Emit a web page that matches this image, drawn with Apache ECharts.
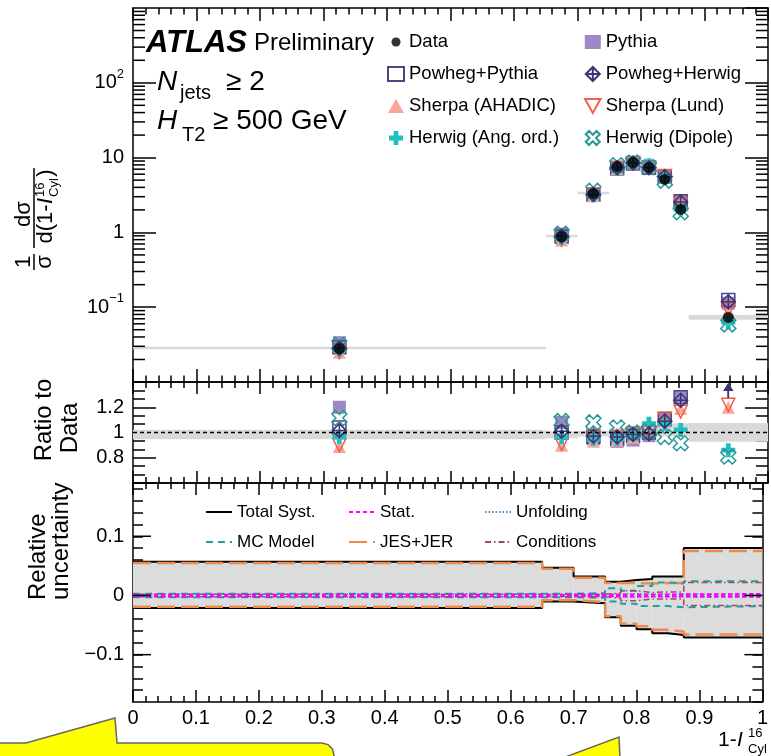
<!DOCTYPE html>
<html><head><meta charset="utf-8">
<script src="https://cdn.jsdelivr.net/npm/echarts@6/dist/echarts.min.js"></script>
<style>html,body{margin:0;padding:0;background:#fff}#c{width:771px;height:756px}</style>
</head><body><div id="c"></div>
<script>
// ---------- DATA ----------
const binEdges = [0, 0.65, 0.7, 0.75, 0.775, 0.8, 0.825, 0.85, 0.875, 1.0];
const binCenters = [0.325, 0.675, 0.725, 0.7625, 0.7875, 0.8125, 0.8375, 0.8625, 0.9375];

const dataValues         = [0.028, 0.88, 3.32, 7.6, 8.6, 7.4, 5.1, 2.03, 0.073];
const pythiaValues       = [0.0336, 0.950, 3.15, 7.07, 8.08, 7.22, 5.61, 2.60, 0.113];
const powhegPythiaValues = [0.0291, 0.880, 3.20, 7.22, 8.39, 7.40, 5.64, 2.60, 0.125];
const powhegHerwigValues = [0.0284, 0.889, 3.22, 7.33, 8.47, 7.33, 5.56, 2.55, 0.118];
const sherpaAhadicValues = [0.0249, 0.792, 3.09, 7.14, 8.30, 7.59, 5.61, 2.42, 0.088];
const sherpaLundValues   = [0.0252, 0.801, 3.24, 7.33, 8.47, 7.40, 5.66, 2.36, 0.092];
const herwigAngValues    = [0.0270, 0.849, 3.15, 7.22, 8.47, 7.92, 5.46, 2.07, 0.063];
const herwigDipoleValues = [0.0312, 0.959, 3.59, 7.90, 8.60, 7.47, 4.92, 1.86, 0.059];

const pythiaRatio       = [1.20, 1.08, 0.95, 0.93, 0.94, 0.975, 1.10, 1.28, 1.55];
const powhegPythiaRatio = [1.04, 1.00, 0.965, 0.95, 0.975, 1.00, 1.105, 1.28, 1.70];
const powhegHerwigRatio = [1.015, 1.01, 0.97, 0.965, 0.985, 0.99, 1.09, 1.255, 1.62];
const sherpaAhadicRatio = [0.89, 0.90, 0.93, 0.94, 0.965, 1.025, 1.10, 1.19, 1.20];
const sherpaLundRatio   = [0.90, 0.91, 0.975, 0.965, 0.985, 1.00, 1.11, 1.165, 1.22];
const herwigAngRatio    = [0.965, 0.965, 0.95, 0.95, 0.985, 1.07, 1.07, 1.02, 0.86];
const herwigDipoleRatio = [1.115, 1.09, 1.08, 1.04, 1.00, 1.01, 0.965, 0.915, 0.81];

const ratioBandLo = [0.946, 0.955, 0.969, 0.978, 0.975, 0.973, 0.969, 0.969, 0.926];
const ratioBandHi = [1.021, 1.010, 1.013, 1.038, 1.054, 1.060, 1.068, 1.072, 1.076];

const totalUp     = [0.057, 0.047, 0.032, 0.023, 0.026, 0.028, 0.032, 0.032, 0.080];
const totalDown   = [-0.021, -0.010, -0.013, -0.037, -0.051, -0.057, -0.064, -0.067, -0.071];
const jesUp       = [0.055, 0.045, 0.030, 0.021, 0.021, 0.020, 0.021, 0.021, 0.075];
const jesDown     = [-0.019, -0.008, -0.011, -0.035, -0.048, -0.052, -0.058, -0.061, -0.066];
const mcModelUp   = [0.003, 0.003, 0.004, 0.012, 0.008, 0.016, 0.022, 0.020, 0.024];
const mcModelDown = [-0.003, -0.003, -0.004, -0.010, -0.014, -0.018, -0.018, -0.020, -0.018];
const statUp      = [0.0008, 0.001, 0.001, 0.0012, 0.0012, 0.0012, 0.0013, 0.0015, 0.002];
const statDown    = [-0.0008, -0.001, -0.001, -0.0012, -0.0012, -0.0012, -0.0013, -0.0015, -0.002];
const unfoldUp    = [0.002, 0.001, 0.001, 0.002, 0.003, 0.002, 0.002, 0.002, 0.002];
const unfoldDown  = [-0.002, -0.001, -0.001, -0.002, -0.003, -0.002, -0.002, -0.002, -0.002];
const condUp      = [0.002, 0.002, 0.002, 0.004, 0.008, 0.005, 0.006, 0.006, 0.022];
const condDown    = [-0.002, -0.002, -0.002, -0.005, -0.009, -0.006, -0.006, -0.006, -0.017];

const xTickLabels = ['0', '0.1', '0.2', '0.3', '0.4', '0.5', '0.6', '0.7', '0.8', '0.9', '1'];
const logMinorTicks = [0.02,0.03,0.04,0.05,0.06,0.07,0.08,0.09, 0.2,0.3,0.4,0.5,0.6,0.7,0.8,0.9,
  2,3,4,5,6,7,8,9, 20,30,40,50,60,70,80,90, 200,300,400,500,600,700,800,900];
const uncMajorTicks = [-0.1, 0, 0.1];

// ---------- STYLE ----------
const FONT = 'Liberation Sans, Arial, Helvetica, sans-serif';
const DIAMOND_PLUS = 'path://M0,-10 L10,0 L0,10 L-10,0 Z M0,-10 L0,10 M-10,0 L10,0';
const DOWN_TRI = 'path://M-10,-9 L10,-9 L0,9 Z';
const PLUS = 'path://M-3.4,-10 L3.4,-10 L3.4,-3.4 L10,-3.4 L10,3.4 L3.4,3.4 L3.4,10 L-3.4,10 L-3.4,3.4 L-10,3.4 L-10,-3.4 L-3.4,-3.4 Z';
const XOUT = 'path://M4.95,-9.19 L9.19,-4.95 L4.24,0 L9.19,4.95 L4.95,9.19 L0,4.24 L-4.95,9.19 L-9.19,4.95 L-4.24,0 L-9.19,-4.95 L-4.95,-9.19 L0,-4.24 Z';
const SMALL_DOT = 'path://M0,0 M20,20 M10,3.5 A6.5,6.5 0 1 1 10,16.5 A6.5,6.5 0 1 1 10,3.5 Z';

const mcList = [
  {name:'Pythia', top:pythiaValues, ratio:pythiaRatio, symbol:'rect', size:13, fill:'#9c8ac6', stroke:'#9c8ac6', bw:0},
  {name:'Powheg+Pythia', top:powhegPythiaValues, ratio:powhegPythiaRatio, symbol:'rect', size:13, fill:'rgba(255,255,255,0)', stroke:'#4f4483', bw:1.5},
  {name:'Sherpa (AHADIC)', top:sherpaAhadicValues, ratio:sherpaAhadicRatio, symbol:'triangle', size:13, fill:'#f7a797', stroke:'#f7a797', bw:0},
  {name:'Sherpa (Lund)', top:sherpaLundValues, ratio:sherpaLundRatio, symbol:DOWN_TRI, size:13, fill:'rgba(255,255,255,0)', stroke:'#f0604c', bw:1.5},
  {name:'Herwig (Ang. ord.)', top:herwigAngValues, ratio:herwigAngRatio, symbol:PLUS, size:14, fill:'#22bfc0', stroke:'#22bfc0', bw:0},
  {name:'Herwig (Dipole)', top:herwigDipoleValues, ratio:herwigDipoleRatio, symbol:XOUT, size:15, fill:'rgba(255,255,255,0)', stroke:'#2a9898', bw:1.5},
  {name:'Powheg+Herwig', top:powhegHerwigValues, ratio:powhegHerwigRatio, symbol:DIAMOND_PLUS, size:14, fill:'rgba(255,255,255,0)', stroke:'#3d3472', bw:1.5}
];

const RATIO_MIN = 0.6, RATIO_MAX = 1.4;

function xAxisCfg(gridIndex, position, showLabels, majorLen, minorLen) {
  return {
    type:'value', gridIndex, position, min:0, max:1, interval:0.1,
    axisLine:{show:true, onZero:false, lineStyle:{color:'#000', width:1.5}},
    axisTick:{show:true, inside:true, length:majorLen, lineStyle:{color:'#000', width:1.5}},
    minorTick:{show:true, splitNumber:5, length:minorLen, lineStyle:{color:'#000', width:1.5}},
    splitLine:{show:false}, minorSplitLine:{show:false},
    axisLabel:{show:showLabels, fontSize:20, fontFamily:FONT, color:'#000', margin:6,
      formatter: v => xTickLabels[Math.round(v*10)] }
  };
}
function axisBase(gridIndex, position) {
  return {
    gridIndex, position,
    axisLine:{show:true, onZero:false, lineStyle:{color:'#000', width:1.5}},
    splitLine:{show:false}, minorSplitLine:{show:false}
  };
}
function logAxis(position, showLabels) {
  return Object.assign(axisBase(0, position), {
    type:'log', logBase:10, min:0.01, max:1000,
    axisTick:{show:true, inside:true, length:23, lineStyle:{color:'#000', width:1.5}},
    minorTick:{show:false},
    axisLabel:{show:showLabels, showMinLabel:false, showMaxLabel:false, margin:9,
      fontSize:20, fontFamily:FONT, color:'#000',
      formatter: v => {
        const e = Math.round(Math.log10(v));
        if (e === 0) return '{n|1}';
        if (e === 1) return '{n|10}';
        return '{n|10}{s|' + (e < 0 ? '\u2212' + (-e) : e) + '}';
      },
      rich:{ n:{fontSize:20, fontFamily:FONT, color:'#000', lineHeight:30},
             s:{fontSize:13, fontFamily:FONT, color:'#000', verticalAlign:'top', lineHeight:14} } }
  });
}
function ratioAxis(position, showLabels) {
  return Object.assign(axisBase(1, position), {
    type:'value', min:RATIO_MIN, max:RATIO_MAX, interval:0.2,
    axisTick:{show:true, inside:true, length:23, lineStyle:{color:'#000', width:1.5}},
    minorTick:{show:true, splitNumber:3, length:12, lineStyle:{color:'#000', width:1.5}},
    axisLabel:{show:showLabels, showMinLabel:false, showMaxLabel:false, margin:9,
      fontSize:20, fontFamily:FONT, color:'#000',
      formatter: v => (Math.abs(v-1) < 1e-6 ? '1' : v.toFixed(1)) }
  });
}
function uncAxis(position, showLabels) {
  return Object.assign(axisBase(2, position), {
    type:'value', min:-0.18, max:0.19, interval:0.02,
    axisTick:{show:true, inside:true, length:10, lineStyle:{color:'#000', width:1.5}},
    minorTick:{show:false},
    axisLabel:{show:showLabels, showMinLabel:false, showMaxLabel:false, margin:9,
      fontSize:20, fontFamily:FONT, color:'#000',
      formatter: v => {
        const t = v*10;
        if (Math.abs(t - Math.round(t)) > 1e-6) return '';
        const r = Math.round(t);
        if (r === 0) return '0';
        return (r < 0 ? '\u2212' : '') + (Math.abs(r)/10).toFixed(1);
      } }
  });
}

function stepData(vals) {
  const d = vals.map((v, i) => [binEdges[i], v]);
  d.push([binEdges[vals.length], vals[vals.length-1]]);
  return d;
}
function stepSeries(name, vals, color, width, type, z) {
  return {
    type:'line', name, xAxisIndex:4, yAxisIndex:4, data:stepData(vals), step:'end',
    symbol:'none', showSymbol:false, silent:true, z,
    lineStyle:{color, width, type}, itemStyle:{color}
  };
}
function tickSeries(xIdx, yIdx, values, len) {
  return {
    type:'custom', name:'_ticks', xAxisIndex:xIdx, yAxisIndex:yIdx, silent:true, z:6,
    data: values.map(v => [0, v]),
    renderItem: (params, api) => {
      const v = api.value(1);
      const pL = api.coord([0, v]);
      const pR = api.coord([1, v]);
      return {type:'group', children:[
        {type:'line', shape:{x1:pL[0], y1:pL[1], x2:pL[0]+len, y2:pL[1]}, style:{stroke:'#000', lineWidth:1.5}},
        {type:'line', shape:{x1:pR[0]-len, y1:pR[1], x2:pR[0], y2:pR[1]}, style:{stroke:'#000', lineWidth:1.5}}
      ]};
    }
  };
}

const series = [];

// top panel: data band (bin width x syst)
series.push({
  type:'custom', name:'_dataBand', xAxisIndex:0, yAxisIndex:0, silent:true, z:1,
  data: dataValues.map((v, i) => [binEdges[i], binEdges[i+1], v*(1+totalUp[i]), v*(1+totalDown[i])]),
  renderItem: (params, api) => {
    const p1 = api.coord([api.value(0), api.value(2)]);
    const p2 = api.coord([api.value(1), api.value(3)]);
    let h = p2[1] - p1[1], y = p1[1];
    if (h < 2.5) { y -= (2.5 - h)/2; h = 2.5; }
    return {type:'rect', shape:{x:p1[0], y, width:p2[0]-p1[0], height:h}, style:{fill:'#d9d9d9'}};
  }
});
mcList.forEach(m => {
  series.push({
    type:'scatter', name:m.name, xAxisIndex:0, yAxisIndex:0, z:2, silent:true,
    symbol:m.symbol, symbolSize:m.size,
    itemStyle:{color:m.fill, borderColor:m.stroke, borderWidth:m.bw, opacity:1},
    data: binCenters.map((x, i) => [x, m.top[i]])
  });
});
series.push({
  type:'scatter', name:'Data', xAxisIndex:0, yAxisIndex:0, z:3, silent:true,
  symbol:'circle', symbolSize:11, itemStyle:{color:'#000'},
  data: binCenters.map((x, i) => [x, dataValues[i]])
});
series.push(tickSeries(0, 0, logMinorTicks, 12));

// ratio panel
series.push({
  type:'custom', name:'_ratioBand', xAxisIndex:2, yAxisIndex:2, silent:true, z:1,
  data: ratioBandLo.map((lo, i) => [binEdges[i], binEdges[i+1], ratioBandHi[i], lo]),
  renderItem: (params, api) => {
    const p1 = api.coord([api.value(0), api.value(2)]);
    const p2 = api.coord([api.value(1), api.value(3)]);
    return {type:'rect', shape:{x:p1[0], y:p1[1], width:p2[0]-p1[0], height:p2[1]-p1[1]}, style:{fill:'#d9d9d9'}};
  },
  markLine:{silent:true, symbol:'none', animation:false, label:{show:false},
    lineStyle:{color:'#000', width:1.3, type:[4,3]}, data:[{yAxis:1}]}
});
mcList.forEach(m => {
  series.push({
    type:'scatter', name:m.name, xAxisIndex:2, yAxisIndex:2, z:2, silent:true, clip:true,
    symbol:m.symbol, symbolSize:m.size,
    itemStyle:{color:m.fill, borderColor:m.stroke, borderWidth:m.bw, opacity:1},
    data: binCenters.map((x, i) => [x, m.ratio[i]]).filter(p => p[1] <= RATIO_MAX)
  });
});
// off-scale arrows
const offscale = [];
mcList.forEach((m, k) => m.ratio.forEach((r, i) => { if (r > RATIO_MAX) offscale.push([binCenters[i], RATIO_MAX, k]); }));
series.push({
  type:'custom', name:'_arrows', xAxisIndex:2, yAxisIndex:2, silent:true, z:3,
  data: offscale,
  renderItem: (params, api) => {
    const p = api.coord([api.value(0), api.value(1)]);
    const c = mcList[api.value(2)].stroke;
    return {type:'group', children:[
      {type:'line', shape:{x1:p[0], y1:p[1]+8, x2:p[0], y2:p[1]+16}, style:{stroke:c, lineWidth:1.5}},
      {type:'polygon', shape:{points:[[p[0]-5, p[1]+9], [p[0]+5, p[1]+9], [p[0], p[1]+1]]}, style:{fill:c}}
    ]};
  }
});

// uncertainty panel
series.push({
  type:'custom', name:'_syst', xAxisIndex:4, yAxisIndex:4, silent:true, z:1,
  data: totalUp.map((u, i) => [binEdges[i], binEdges[i+1], u, totalDown[i]]),
  renderItem: (params, api) => {
    const p1 = api.coord([api.value(0), api.value(2)]);
    const p2 = api.coord([api.value(1), api.value(3)]);
    return {type:'rect', shape:{x:p1[0], y:p1[1], width:p2[0]-p1[0], height:p2[1]-p1[1]}, style:{fill:'#dcdcdc'}};
  }
});
const cTot = '#000', cStat = '#ff00ff', cUnf = '#3f8fd0', cMC = '#1fa0a0', cJES = '#f08a4b', cCond = '#a8446a';
series.push(stepSeries('Total Syst.', totalUp, cTot, 2, 'solid', 2));
series.push(stepSeries('Total Syst.', totalDown, cTot, 2, 'solid', 2));
series.push(stepSeries('JES+JER', jesUp, cJES, 2.5, [18,6], 3));
series.push(stepSeries('JES+JER', jesDown, cJES, 2.5, [18,6], 3));
series.push(stepSeries('MC Model', mcModelUp, cMC, 2, [7,5], 4));
series.push(stepSeries('MC Model', mcModelDown, cMC, 2, [7,5], 4));
series.push(stepSeries('Conditions', condUp, cCond, 1.5, [6,3,1.5,3], 4));
series.push(stepSeries('Conditions', condDown, cCond, 1.5, [6,3,1.5,3], 4));
series.push(stepSeries('Unfolding', unfoldUp, cUnf, 1.5, [1.5,2], 4));
series.push(stepSeries('Unfolding', unfoldDown, cUnf, 1.5, [1.5,2], 4));
series.push(stepSeries('Stat.', statUp, cStat, 2.5, [4,3], 5));
series.push(stepSeries('Stat.', statDown, cStat, 2.5, [4,3], 5));
series.push(tickSeries(4, 4, uncMajorTicks, 18));

function rtext(x, y, text, size, styleExtra) {
  return {type:'text', x, y, z:100, rotation:Math.PI/2, silent:true,
    style:Object.assign({text, fontSize:size, fontFamily:FONT, fill:'#000', align:'center', verticalAlign:'middle'}, styleExtra || {})};
}
function htext(x, y, text, size, opts) {
  return {type:'text', x, y, z:100, silent:true,
    style:Object.assign({text, fontSize:size, fontFamily:FONT, fill:'#000', align:'left', verticalAlign:'middle'}, opts || {})};
}

const legendText = {fontSize:18.5, fontFamily:FONT, color:'#000', lineHeight:20};
const uncLegendText = {fontSize:17, fontFamily:FONT, color:'#000', lineHeight:18};
const uncLegendBase = {orient:'vertical', itemWidth:26, itemHeight:10, itemGap:12, selectedMode:false,
  textStyle:uncLegendText, itemStyle:{opacity:0}, top:498};

const option = {
  animation:false,
  backgroundColor:'#fff',
  grid:[
    {left:133, top:8, width:635, height:374},
    {left:133, top:382, width:635, height:101},
    {left:133, top:483, width:635, height:219}
  ],
  xAxis:[
    xAxisCfg(0, 'bottom', false, 13, 6.5),
    xAxisCfg(0, 'top', false, 13, 6.5),
    xAxisCfg(1, 'bottom', false, 12, 6),
    xAxisCfg(1, 'top', false, 12, 6),
    xAxisCfg(2, 'bottom', true, 12, 6),
    xAxisCfg(2, 'top', false, 12, 6)
  ],
  yAxis:[
    logAxis('left', true), logAxis('right', false),
    ratioAxis('left', true), ratioAxis('right', false),
    uncAxis('left', true), uncAxis('right', false)
  ],
  legend:[
    {left:382, top:27, orient:'vertical', itemWidth:16, itemHeight:14, itemGap:12, selectedMode:false,
     textStyle:legendText,
     data:[{name:'Data', icon:SMALL_DOT},'Powheg+Pythia','Sherpa (AHADIC)','Herwig (Ang. ord.)']},
    {left:579, top:27, orient:'vertical', itemWidth:16, itemHeight:14, itemGap:12, selectedMode:false,
     textStyle:legendText, data:['Pythia','Powheg+Herwig','Sherpa (Lund)','Herwig (Dipole)']},
    Object.assign({left:200, data:['Total Syst.','MC Model']}, uncLegendBase),
    Object.assign({left:343, data:['Stat.','JES+JER']}, uncLegendBase),
    Object.assign({left:479, data:['Unfolding','Conditions']}, uncLegendBase)
  ],
  series,
  graphic:{elements:[
    htext(146, 43, 'ATLAS', 31, {fontWeight:'bold', fontStyle:'italic'}),
    htext(254, 43, 'Preliminary', 24),
    htext(157, 82, 'N', 28, {fontStyle:'italic'}),
    htext(180, 93, 'jets', 20),
    htext(226, 82, '\u2265 2', 28),
    htext(157, 121, 'H', 28, {fontStyle:'italic'}),
    htext(182, 135, 'T2', 20),
    htext(213, 121, '\u2265 500 GeV', 28),
    // y title top panel
    rtext(24, 214, 'd\u03c3', 22),
    {type:'line', z:100, silent:true, shape:{x1:34, y1:168, x2:34, y2:248}, style:{stroke:'#000', lineWidth:1.5}},
    rtext(46, 224, 'd(1-', 22),
    rtext(46, 201, 'I', 22, {fontStyle:'italic'}),
    rtext(40, 197, '16', 13, {align:'left'}),
    rtext(54, 197, 'Cyl', 13, {align:'left'}),
    rtext(46, 173, ')', 22),
    rtext(24, 262, '1', 22),
    {type:'line', z:100, silent:true, shape:{x1:34, y1:254, x2:34, y2:270}, style:{stroke:'#000', lineWidth:1.5}},
    rtext(45, 262, '\u03c3', 22),
    // ratio title
    rtext(44, 420, 'Ratio to', 24),
    rtext(70, 428, 'Data', 24),
    // relative uncertainty title
    rtext(38, 600, 'Relative', 24, {align:'left'}),
    rtext(61, 600, 'uncertainty', 24, {align:'left'}),
    // x title
    htext(718, 740, '1-', 21),
    htext(737, 740, 'I', 21, {fontStyle:'italic'}),
    htext(748, 733, '16', 13),
    htext(748, 749, 'Cyl', 13),
    // callouts
    {type:'polygon', z:200, silent:true,
      shape:{points:[[-3,743],[26,743],[115,718],[117,743],[322,743],[328,744.6],[332.4,749],[334,755],[334,762],[-3,762]]},
      style:{fill:'#ffff00', stroke:'#666', lineWidth:1.5}},
    {type:'polygon', z:200, silent:true, shape:{points:[[560,759],[619,737],[620,759]]},
      style:{fill:'#ffff00', stroke:'#666', lineWidth:1.5}}
  ]}
};

const chart = echarts.init(document.getElementById('c'), null, {renderer:'canvas', width:771, height:756});
chart.setOption(option);
</script>
</body></html>
